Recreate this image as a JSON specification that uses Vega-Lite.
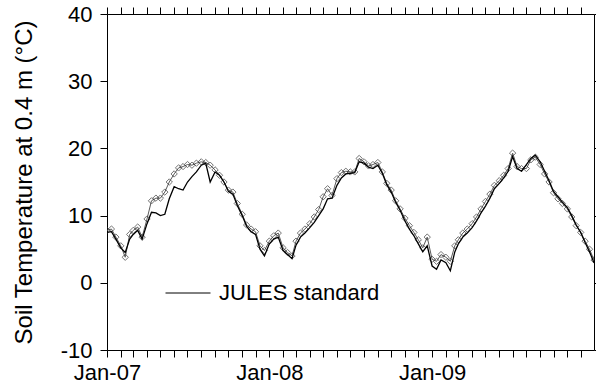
{
  "$schema": "https://vega.github.io/schema/vega-lite/v6.json",
  "width": 487,
  "height": 336,
  "autosize": "none",
  "padding": {"left": 107, "top": 14, "right": 2, "bottom": 39},
  "background": "white",
  "config": {
    "font": "Liberation Sans",
    "view": {"stroke": null},
    "axis": {
      "domainColor": "#000000",
      "domainWidth": 1,
      "tickColor": "#000000",
      "tickWidth": 1,
      "tickSize": 7,
      "labelFont": "Liberation Sans",
      "labelFontSize": 22,
      "labelColor": "#000000",
      "titleFont": "Liberation Sans",
      "titleFontSize": 24,
      "titleFontWeight": "normal",
      "titleColor": "#000000",
      "grid": false
    }
  },
  "data": {
    "values": [
      {"d": "2007-01-01", "obs": 7.8, "jules": 7.5},
      {"d": "2007-01-11", "obs": 8.0, "jules": 7.6},
      {"d": "2007-01-21", "obs": 6.8, "jules": 6.5},
      {"d": "2007-02-01", "obs": 5.5, "jules": 5.2},
      {"d": "2007-02-11", "obs": 3.8, "jules": 4.5},
      {"d": "2007-02-21", "obs": 7.2, "jules": 6.5},
      {"d": "2007-03-01", "obs": 7.8, "jules": 7.2},
      {"d": "2007-03-11", "obs": 8.3, "jules": 7.8},
      {"d": "2007-03-21", "obs": 6.8, "jules": 6.5},
      {"d": "2007-04-01", "obs": 9.5, "jules": 8.8},
      {"d": "2007-04-11", "obs": 12.2, "jules": 10.5},
      {"d": "2007-04-21", "obs": 12.6, "jules": 10.4},
      {"d": "2007-05-01", "obs": 12.6, "jules": 10.0},
      {"d": "2007-05-11", "obs": 13.5, "jules": 10.2},
      {"d": "2007-05-21", "obs": 15.0, "jules": 12.5},
      {"d": "2007-06-01", "obs": 16.2, "jules": 14.3},
      {"d": "2007-06-11", "obs": 17.1, "jules": 14.0},
      {"d": "2007-06-21", "obs": 17.3, "jules": 13.8},
      {"d": "2007-07-01", "obs": 17.6, "jules": 15.0},
      {"d": "2007-07-11", "obs": 17.5, "jules": 15.8},
      {"d": "2007-07-21", "obs": 17.8, "jules": 16.5},
      {"d": "2007-08-01", "obs": 18.0, "jules": 17.5},
      {"d": "2007-08-11", "obs": 17.9, "jules": 17.8},
      {"d": "2007-08-21", "obs": 17.5, "jules": 15.0},
      {"d": "2007-09-01", "obs": 16.8, "jules": 16.5},
      {"d": "2007-09-11", "obs": 16.0, "jules": 16.0},
      {"d": "2007-09-21", "obs": 15.0, "jules": 15.0},
      {"d": "2007-10-01", "obs": 13.8, "jules": 13.6},
      {"d": "2007-10-11", "obs": 13.5, "jules": 13.2},
      {"d": "2007-10-21", "obs": 11.8, "jules": 11.5},
      {"d": "2007-11-01", "obs": 10.2, "jules": 10.0},
      {"d": "2007-11-11", "obs": 8.6, "jules": 8.4},
      {"d": "2007-11-21", "obs": 8.0, "jules": 7.6},
      {"d": "2007-12-01", "obs": 7.6, "jules": 7.2},
      {"d": "2007-12-11", "obs": 5.5, "jules": 5.0},
      {"d": "2007-12-21", "obs": 4.8, "jules": 4.0},
      {"d": "2008-01-01", "obs": 6.2, "jules": 5.8},
      {"d": "2008-01-11", "obs": 7.0, "jules": 6.5},
      {"d": "2008-01-21", "obs": 7.4, "jules": 6.8},
      {"d": "2008-02-01", "obs": 5.2, "jules": 4.8},
      {"d": "2008-02-11", "obs": 4.5, "jules": 4.2},
      {"d": "2008-02-21", "obs": 4.0, "jules": 3.6},
      {"d": "2008-03-01", "obs": 6.2, "jules": 5.6},
      {"d": "2008-03-11", "obs": 7.4, "jules": 6.8},
      {"d": "2008-03-21", "obs": 8.0, "jules": 7.4},
      {"d": "2008-04-01", "obs": 8.8, "jules": 8.2},
      {"d": "2008-04-11", "obs": 9.8, "jules": 9.0},
      {"d": "2008-04-21", "obs": 10.9, "jules": 10.0},
      {"d": "2008-05-01", "obs": 12.8, "jules": 11.0},
      {"d": "2008-05-11", "obs": 14.0, "jules": 12.5},
      {"d": "2008-05-21", "obs": 13.0, "jules": 12.6},
      {"d": "2008-06-01", "obs": 15.5, "jules": 14.5},
      {"d": "2008-06-11", "obs": 16.4, "jules": 15.6},
      {"d": "2008-06-21", "obs": 16.6, "jules": 16.2},
      {"d": "2008-07-01", "obs": 16.5, "jules": 16.3},
      {"d": "2008-07-11", "obs": 16.5, "jules": 16.4},
      {"d": "2008-07-21", "obs": 18.5, "jules": 18.0},
      {"d": "2008-08-01", "obs": 18.0, "jules": 17.8},
      {"d": "2008-08-11", "obs": 17.4, "jules": 17.2},
      {"d": "2008-08-21", "obs": 17.6, "jules": 17.0},
      {"d": "2008-09-01", "obs": 17.9, "jules": 17.5},
      {"d": "2008-09-11", "obs": 16.5, "jules": 16.3},
      {"d": "2008-09-21", "obs": 14.8, "jules": 14.6},
      {"d": "2008-10-01", "obs": 13.8, "jules": 13.5},
      {"d": "2008-10-11", "obs": 12.2, "jules": 12.0},
      {"d": "2008-10-21", "obs": 11.0, "jules": 10.8},
      {"d": "2008-11-01", "obs": 9.6, "jules": 9.2},
      {"d": "2008-11-11", "obs": 8.5, "jules": 8.0},
      {"d": "2008-11-21", "obs": 7.5, "jules": 7.0},
      {"d": "2008-12-01", "obs": 6.4, "jules": 5.8},
      {"d": "2008-12-11", "obs": 5.2, "jules": 4.6},
      {"d": "2008-12-21", "obs": 6.8, "jules": 5.5},
      {"d": "2009-01-01", "obs": 3.5, "jules": 2.5},
      {"d": "2009-01-11", "obs": 3.2, "jules": 2.0},
      {"d": "2009-01-21", "obs": 4.2, "jules": 3.4},
      {"d": "2009-02-01", "obs": 3.8, "jules": 3.0},
      {"d": "2009-02-11", "obs": 3.2, "jules": 1.8},
      {"d": "2009-02-21", "obs": 5.5, "jules": 4.6},
      {"d": "2009-03-01", "obs": 6.4, "jules": 5.8},
      {"d": "2009-03-11", "obs": 7.4, "jules": 6.8},
      {"d": "2009-03-21", "obs": 8.0, "jules": 7.4},
      {"d": "2009-04-01", "obs": 8.8, "jules": 8.2},
      {"d": "2009-04-11", "obs": 9.8, "jules": 9.2},
      {"d": "2009-04-21", "obs": 11.0, "jules": 10.4},
      {"d": "2009-05-01", "obs": 12.1, "jules": 11.4},
      {"d": "2009-05-11", "obs": 13.2, "jules": 12.6},
      {"d": "2009-05-21", "obs": 14.5, "jules": 14.0},
      {"d": "2009-06-01", "obs": 15.2, "jules": 14.8},
      {"d": "2009-06-11", "obs": 16.0, "jules": 15.6},
      {"d": "2009-06-21", "obs": 17.0, "jules": 16.6},
      {"d": "2009-07-01", "obs": 19.3, "jules": 18.8},
      {"d": "2009-07-11", "obs": 17.3, "jules": 17.0},
      {"d": "2009-07-21", "obs": 17.0, "jules": 16.6},
      {"d": "2009-08-01", "obs": 17.0, "jules": 17.6},
      {"d": "2009-08-11", "obs": 18.3, "jules": 18.5},
      {"d": "2009-08-21", "obs": 18.7, "jules": 19.0},
      {"d": "2009-09-01", "obs": 17.6, "jules": 18.0},
      {"d": "2009-09-11", "obs": 16.2, "jules": 16.6},
      {"d": "2009-09-21", "obs": 15.0, "jules": 15.2},
      {"d": "2009-10-01", "obs": 13.4, "jules": 13.6},
      {"d": "2009-10-11", "obs": 12.5, "jules": 12.8},
      {"d": "2009-10-21", "obs": 11.8, "jules": 12.0},
      {"d": "2009-11-01", "obs": 11.0, "jules": 11.2},
      {"d": "2009-11-11", "obs": 9.8, "jules": 10.0},
      {"d": "2009-11-21", "obs": 8.5, "jules": 8.6},
      {"d": "2009-12-01", "obs": 7.5, "jules": 7.5},
      {"d": "2009-12-11", "obs": 6.2, "jules": 6.0},
      {"d": "2009-12-21", "obs": 5.0, "jules": 4.6},
      {"d": "2009-12-31", "obs": 3.4, "jules": 3.0}
    ]
  },
  "layer": [
    {
      "mark": {"type": "line", "stroke": "#5a5a5a", "strokeWidth": 1, "clip": true},
      "encoding": {
        "x": {
          "field": "d",
          "type": "temporal",
          "scale": {
            "type": "utc",
            "domain": [
              {"year": 2007, "month": "jan", "date": 1, "utc": true},
              {"year": 2009, "month": "dec", "date": 31, "utc": true}
            ]
          },
          "axis": {
            "orient": "bottom",
            "title": null,
            "tickCount": {"interval": "month", "step": 1},
            "labelExpr": "utcmonth(datum.value) == 0 ? utcFormat(datum.value, '%b-%y') : ''",
            "labelOverlap": false,
            "labelFlush": false,
            "labelPadding": 5
          }
        },
        "y": {
          "field": "obs",
          "type": "quantitative",
          "scale": {"domain": [-10, 40], "nice": false, "zero": false},
          "axis": {
            "orient": "left",
            "title": "Soil Temperature at 0.4 m (°C)",
            "values": [-10, 0, 10, 20, 30, 40],
            "labelExpr": "datum.value < 0 ? '-' + abs(datum.value) : '' + datum.value",
            "labelPadding": 8,
            "titlePadding": 24
          }
        }
      }
    },
    {
      "mark": {"type": "point", "shape": "diamond", "filled": false, "stroke": "#3a3a3a", "strokeWidth": 1, "size": 40, "clip": true},
      "encoding": {
        "x": {
          "field": "d",
          "type": "temporal",
          "scale": {
            "type": "utc",
            "domain": [
              {"year": 2007, "month": "jan", "date": 1, "utc": true},
              {"year": 2009, "month": "dec", "date": 31, "utc": true}
            ]
          },
          "axis": {
            "orient": "top",
            "title": null,
            "tickCount": {"interval": "month", "step": 1},
            "labels": false
          }
        },
        "y": {
          "field": "obs",
          "type": "quantitative",
          "scale": {"domain": [-10, 40], "nice": false, "zero": false},
          "axis": {
            "orient": "right",
            "title": null,
            "values": [-10, 0, 10, 20, 30, 40],
            "labels": false
          }
        }
      }
    },
    {
      "mark": {"type": "line", "strokeWidth": 1.3, "clip": true},
      "encoding": {
        "x": {
          "field": "d",
          "type": "temporal",
          "scale": {
            "type": "utc",
            "domain": [
              {"year": 2007, "month": "jan", "date": 1, "utc": true},
              {"year": 2009, "month": "dec", "date": 31, "utc": true}
            ]
          },
          "axis": null
        },
        "y": {
          "field": "jules",
          "type": "quantitative",
          "scale": {"domain": [-10, 40], "nice": false, "zero": false},
          "axis": null
        },
        "color": {
          "datum": "JULES standard",
          "scale": {"range": ["#000000"]},
          "legend": {
            "orient": "none",
            "legendX": 58,
            "legendY": 256,
            "title": null,
            "symbolType": "stroke",
            "symbolSize": 2025,
            "symbolStrokeWidth": 1,
            "symbolStrokeColor": "#000000",
            "labelFont": "Liberation Sans",
            "labelFontSize": 22,
            "labelColor": "#000000",
            "labelOffset": 8,
            "labelLimit": 400,
            "padding": 0
          }
        }
      }
    }
  ],
  "resolve": {"axis": {"x": "independent", "y": "independent"}}
}
